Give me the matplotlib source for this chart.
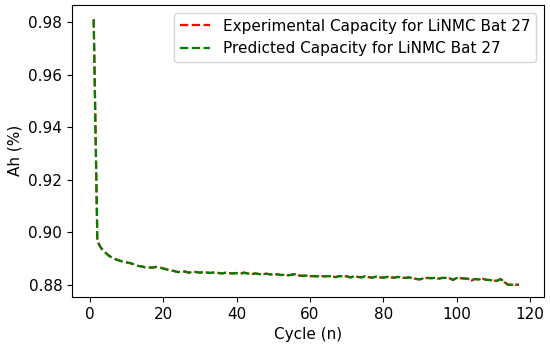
import matplotlib
matplotlib.use("Agg")
import matplotlib.pyplot as plt

plt.rcParams['font.size'] = 11

cycles = list(range(1, 118))
experimental = [
    0.9810, 0.8965, 0.8940, 0.8925, 0.8912, 0.8903, 0.8897, 0.8892, 0.8888, 0.8885,
    0.8882, 0.8878, 0.8872, 0.8870, 0.8866, 0.8866, 0.8865, 0.8868, 0.8866, 0.8862,
    0.8858, 0.8855, 0.8852, 0.8848, 0.8852, 0.8850, 0.8845, 0.8852, 0.8848, 0.8846,
    0.8849, 0.8846, 0.8845, 0.8848, 0.8845, 0.8843, 0.8846, 0.8844, 0.8843, 0.8845,
    0.8842, 0.8847, 0.8843, 0.8840, 0.8843, 0.8841, 0.8839, 0.8842, 0.8840, 0.8838,
    0.8840, 0.8837, 0.8838, 0.8836, 0.8838, 0.8842, 0.8835, 0.8834, 0.8835, 0.8833,
    0.8833, 0.8832, 0.8833, 0.8832, 0.8833, 0.8832, 0.8829, 0.8833, 0.8832, 0.8832,
    0.8828, 0.8832, 0.8830, 0.8828, 0.8832, 0.8829, 0.8827, 0.8831, 0.8828, 0.8827,
    0.8830, 0.8828, 0.8827, 0.8830, 0.8827, 0.8826, 0.8828, 0.8825, 0.8822, 0.8820,
    0.8825, 0.8826, 0.8825, 0.8826, 0.8823, 0.8826, 0.8826, 0.8825, 0.8818, 0.8826,
    0.8825, 0.8824, 0.8823, 0.8816, 0.8822, 0.8820, 0.8823, 0.8819, 0.8818, 0.8816,
    0.8815, 0.8822, 0.8810, 0.8800, 0.8800, 0.8800, 0.8800,
]
predicted = [
    0.9810, 0.8965, 0.8940, 0.8925, 0.8912, 0.8903, 0.8897, 0.8892, 0.8888, 0.8885,
    0.8882, 0.8878, 0.8872, 0.8870, 0.8867, 0.8866, 0.8865, 0.8868, 0.8866, 0.8862,
    0.8858, 0.8855, 0.8852, 0.8848, 0.8851, 0.8850, 0.8846, 0.8850, 0.8848, 0.8846,
    0.8849, 0.8846, 0.8845, 0.8847, 0.8845, 0.8843, 0.8846, 0.8844, 0.8843, 0.8844,
    0.8842, 0.8845, 0.8843, 0.8840, 0.8843, 0.8841, 0.8839, 0.8842, 0.8840, 0.8838,
    0.8840, 0.8837, 0.8838, 0.8836, 0.8838, 0.8840, 0.8835, 0.8834, 0.8835, 0.8833,
    0.8833, 0.8832, 0.8833, 0.8832, 0.8833, 0.8832, 0.8829, 0.8833, 0.8832, 0.8832,
    0.8828, 0.8832, 0.8830, 0.8828, 0.8832, 0.8829, 0.8827, 0.8831, 0.8828, 0.8827,
    0.8830, 0.8828, 0.8827, 0.8830, 0.8827, 0.8826, 0.8828, 0.8825, 0.8822, 0.8821,
    0.8825, 0.8826, 0.8825, 0.8826, 0.8823, 0.8826, 0.8826, 0.8825, 0.8819, 0.8826,
    0.8825, 0.8824, 0.8823, 0.8817, 0.8822, 0.8820, 0.8823, 0.8819, 0.8818, 0.8816,
    0.8815, 0.8822, 0.8810, 0.8800, 0.8800, 0.8800, 0.8800,
]
x_ticks = [0, 20, 40, 60, 80, 100, 120]
y_ticks = [0.88, 0.90, 0.92, 0.94, 0.96, 0.98]

fig = plt.figure(figsize=(5.5, 3.48), dpi=100)
ax = fig.add_axes([0.131, 0.147, 0.858, 0.839])
ax.plot(cycles, experimental, color='red', linestyle='--', linewidth=1.6,
        label='Experimental Capacity for LiNMC Bat 27')
ax.plot(cycles, predicted, color='green', linestyle='--', linewidth=1.6,
        label='Predicted Capacity for LiNMC Bat 27')
ax.set_xlim(-4.9, 123.8)
ax.set_ylim(0.8754, 0.9865)
ax.set_xticks(x_ticks)
ax.set_yticks(y_ticks)
ax.set_yticklabels([f'{v:.2f}' for v in y_ticks])
ax.set_xlabel('Cycle (n)')
ax.set_ylabel('Ah (%)')
ax.legend(loc='upper right')
fig.savefig('out.png', dpi=100)
